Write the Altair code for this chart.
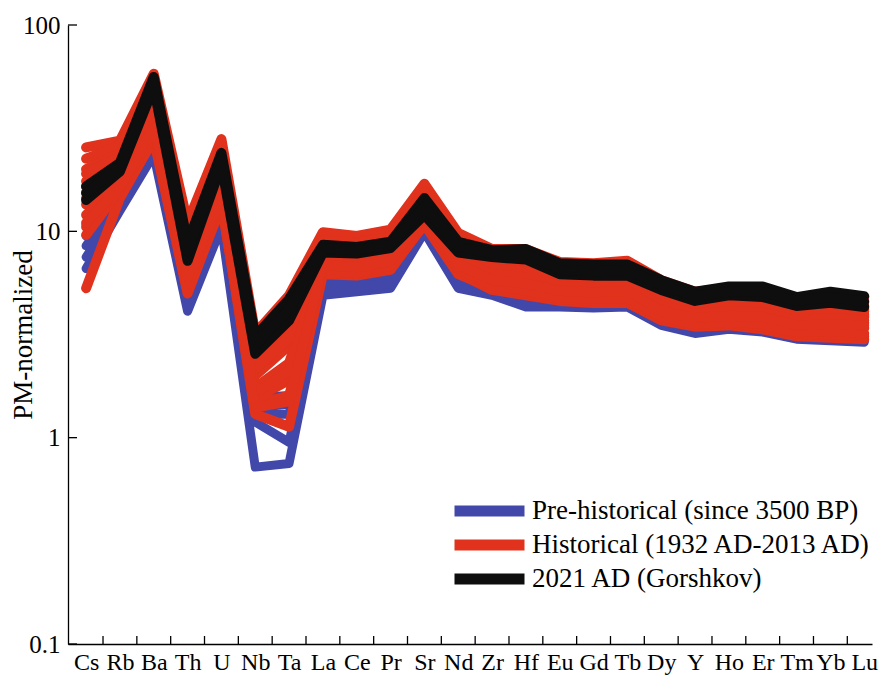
import altair as alt
import pandas as pd

# Trace elements in spider-diagram order
elements = ["Cs", "Rb", "Ba", "Th", "U", "Nb", "Ta", "La", "Ce", "Pr", "Sr", "Nd",
            "Zr", "Hf", "Eu", "Gd", "Tb", "Dy", "Y", "Ho", "Er", "Tm", "Yb", "Lu"]

# Primitive-mantle normalised concentrations, one list per sample
prehistoric = {
    "P1": [6.6, 12.6, 23.5, 4.1, 10.5, 0.72, 0.75, 4.9, 5.1, 5.3, 9.9, 5.3, 4.9, 4.3, 4.3, 4.25, 4.3, 3.5, 3.2, 3.35, 3.25, 3.0, 2.95, 2.9],
    "P2": [7.5, 13.5, 25.0, 4.5, 11.5, 1.19, 0.95, 5.2, 5.3, 5.6, 10.3, 5.5, 5.0, 4.6, 4.4, 4.3, 4.35, 3.55, 3.3, 3.4, 3.3, 3.05, 3.0, 2.95],
    "P3": [8.5, 14.5, 27.0, 5.0, 12.5, 1.56, 1.6, 5.6, 5.7, 5.9, 10.8, 5.9, 5.2, 4.8, 4.5, 4.45, 4.45, 3.65, 3.4, 3.5, 3.4, 3.15, 3.05, 3.0],
    "P4": [9.5, 15.5, 30.0, 5.6, 13.5, 1.4, 1.45, 6.0, 6.0, 6.2, 11.2, 6.3, 5.4, 5.0, 4.6, 4.55, 4.6, 3.75, 3.5, 3.6, 3.5, 3.2, 3.15, 3.05],
    "P5": [10.8, 16.5, 33.0, 6.0, 15.0, 1.3, 1.3, 6.4, 6.2, 6.5, 11.5, 6.7, 5.6, 5.1, 4.8, 4.7, 4.7, 3.9, 3.6, 3.7, 3.6, 3.3, 3.2, 3.15],
}

historical = {
    "H1": [25.5, 27.5, 58.0, 11.0, 28.0, 3.2, 4.9, 9.9, 9.5, 10.2, 17.0, 9.8, 8.2, 8.2, 7.1, 7.0, 7.2, 5.8, 5.1, 5.3, 5.3, 4.7, 5.0, 4.8],
    "H2": [22.5, 26.0, 52.0, 9.5, 25.0, 2.9, 4.3, 9.0, 8.8, 9.4, 15.5, 9.2, 7.8, 7.6, 6.7, 6.6, 6.7, 5.5, 4.8, 5.0, 5.0, 4.5, 4.75, 4.6],
    "H3": [20.0, 24.0, 47.0, 8.6, 22.0, 2.6, 3.8, 8.5, 8.2, 8.8, 14.5, 8.5, 7.2, 7.0, 6.3, 6.2, 6.3, 5.1, 4.6, 4.75, 4.7, 4.25, 4.5, 4.35],
    "H4": [17.5, 22.0, 42.0, 7.8, 20.0, 2.3, 3.3, 8.0, 7.7, 8.3, 13.5, 8.0, 6.8, 6.6, 5.9, 5.8, 5.9, 4.8, 4.35, 4.5, 4.45, 4.0, 4.2, 4.1],
    "H5": [15.5, 20.0, 38.0, 7.0, 18.0, 2.0, 2.8, 7.5, 7.3, 7.8, 12.8, 7.5, 6.4, 6.2, 5.6, 5.5, 5.6, 4.5, 4.1, 4.25, 4.2, 3.8, 3.95, 3.85],
    "H6": [13.5, 18.5, 34.0, 6.3, 16.5, 1.75, 2.3, 7.1, 6.9, 7.4, 12.2, 7.1, 6.0, 5.8, 5.3, 5.2, 5.3, 4.25, 3.9, 4.0, 3.95, 3.6, 3.7, 3.6],
    "H7": [12.0, 17.0, 31.0, 5.8, 15.5, 1.55, 1.9, 6.7, 6.5, 7.0, 11.6, 6.8, 5.6, 5.4, 5.0, 4.9, 5.0, 4.0, 3.7, 3.8, 3.7, 3.4, 3.45, 3.4],
    "H8": [10.5, 15.5, 29.0, 5.3, 14.0, 1.3, 1.13, 6.2, 6.1, 6.5, 11.0, 6.3, 5.2, 4.9, 4.6, 4.5, 4.5, 3.7, 3.45, 3.5, 3.35, 3.1, 3.05, 3.0],
    "H9": [5.3, 14.5, 28.0, 5.0, 13.4, 1.45, 1.6, 6.3, 6.2, 6.6, 10.8, 6.2, 5.3, 5.0, 4.7, 4.6, 4.6, 3.8, 3.5, 3.6, 3.45, 3.2, 3.15, 3.1],
    "H10": [9.6, 16.0, 30.0, 5.5, 14.5, 1.5, 2.0, 6.5, 6.3, 6.8, 11.2, 6.6, 5.45, 5.15, 4.8, 4.7, 4.75, 3.85, 3.55, 3.65, 3.55, 3.25, 3.3, 3.2],
    "H11": [19.0, 23.0, 45.0, 8.2, 21.0, 2.75, 4.0, 8.2, 8.0, 8.6, 14.0, 8.3, 7.0, 6.8, 6.1, 6.0, 6.1, 4.95, 4.5, 4.6, 4.55, 4.1, 4.35, 4.2],
    "H12": [16.5, 21.0, 40.0, 7.4, 19.0, 2.15, 3.05, 7.7, 7.5, 8.0, 13.1, 7.7, 6.6, 6.4, 5.75, 5.65, 5.75, 4.65, 4.2, 4.35, 4.3, 3.9, 4.05, 3.95],
    "H13": [14.5, 19.0, 36.0, 6.6, 17.0, 1.65, 2.1, 7.3, 7.1, 7.6, 12.5, 7.3, 6.2, 6.0, 5.45, 5.35, 5.45, 4.35, 4.0, 4.1, 4.05, 3.7, 3.8, 3.7],
    "H14": [11.0, 16.5, 32.0, 6.0, 15.0, 1.4, 1.5, 6.9, 6.7, 7.2, 11.9, 6.9, 5.8, 5.6, 5.15, 5.05, 5.15, 4.1, 3.8, 3.9, 3.85, 3.5, 3.55, 3.5],
}

gorshkov = {
    "G1": [16.5, 21.5, 56.0, 8.8, 24.0, 3.1, 4.7, 8.6, 8.4, 8.9, 14.5, 8.9, 8.1, 8.2, 7.0, 6.9, 6.9, 5.8, 5.1, 5.4, 5.4, 4.8, 5.1, 4.85],
    "G2": [14.2, 19.5, 50.0, 7.2, 21.0, 2.55, 3.7, 7.9, 7.8, 8.3, 12.0, 7.9, 7.5, 7.3, 6.2, 6.1, 6.1, 5.2, 4.6, 4.9, 4.8, 4.35, 4.5, 4.3],
    "G3": [15.3, 20.5, 53.0, 8.0, 22.5, 2.8, 4.2, 8.3, 8.1, 8.6, 13.2, 8.4, 7.8, 7.8, 6.5, 6.4, 6.5, 5.5, 4.85, 5.1, 5.1, 4.6, 4.8, 4.55],
}

groups = ["Pre-historical (since 3500 BP)", "Historical (1932 AD-2013 AD)", "2021 AD (Gorshkov)"]
colors = ["#4248aa", "#e0321c", "#0e0e0e"]

# Category boundaries carry the small inward x ticks; decades carry the y ticks
boundary_ticks = [i + 0.5 for i in range(len(elements) - 1)]
decade_ticks = [0.1, 1, 10, 100]

rows = []
for label, series in zip(groups, [prehistoric, historical, gorshkov]):
    for name, vals in series.items():
        for i, v in enumerate(vals):
            rows.append({"group": label, "sample": name, "pos": i, "value": v})
df = pd.DataFrame(rows)

W, H = 804, 619
FONT = "Liberation Serif"

x_scale = alt.Scale(domain=[-0.535, 23.23], nice=False, zero=False)
y_scale = alt.Scale(type="log", domain=[0.1, 100], nice=False)
color_scale = alt.Scale(domain=groups, range=colors)

label_expr = "[" + ",".join(f"'{e}'" for e in elements) + "][datum.value]"

x_axis = alt.Axis(
    values=list(range(len(elements))), labelExpr=label_expr, title=None,
    grid=False, ticks=False, tickSize=0, labelAngle=0,
    labelFont=FONT, labelFontSize=24, labelColor="black", labelPadding=6,
    domainColor="black", domainWidth=1.3, labelFlush=False, labelOverlap=False,
)
y_axis = alt.Axis(
    values=decade_ticks,
    labelExpr="datum.value < 1 ? '0.1' : format(datum.value, 'd')",
    title="PM-normalized", titleFont=FONT, titleFontSize=27, titleFontWeight="normal",
    titleColor="black", titleX=-37, titleY=H / 2, titleAngle=270,
    titleAlign="center", titleBaseline="alphabetic",
    grid=False, ticks=False, tickSize=0,
    labelFont=FONT, labelFontSize=25, labelColor="black", labelPadding=8,
    domainColor="black", domainWidth=1.3, labelFlush=False, labelOverlap=False,
)
legend = alt.Legend(
    title=None, orient="none", legendX=381, legendY=469, padding=0,
    symbolType="stroke", symbolSize=4900, symbolStrokeWidth=11, clipHeight=34,
    labelFont=FONT, labelFontSize=27, labelColor="black", labelOffset=2,
    labelLimit=500, rowPadding=0,
)


def group_lines(label, width):
    return alt.Chart(df[df["group"] == label]).mark_line(
        strokeWidth=width, strokeCap="round", strokeJoin="round"
    ).encode(
        x=alt.X("pos:Q", scale=x_scale, axis=x_axis),
        y=alt.Y("value:Q", scale=y_scale, axis=y_axis),
        color=alt.Color("group:N", scale=color_scale, legend=legend),
        detail="sample:N",
    )


x_ticks = alt.Chart(pd.DataFrame({"pos": boundary_ticks})).mark_rule(
    color="black", strokeWidth=1.3
).encode(
    x=alt.X("pos:Q", scale=x_scale, axis=x_axis),
    y=alt.value(H), y2=alt.value(H - 8),
)

y_ticks = alt.Chart(pd.DataFrame({"value": decade_ticks})).mark_rule(
    color="black", strokeWidth=1.3
).encode(
    y=alt.Y("value:Q", scale=y_scale, axis=y_axis),
    x=alt.value(0), x2=alt.value(9),
)

chart = alt.layer(
    x_ticks, y_ticks,
    group_lines(groups[0], 9),
    group_lines(groups[1], 10),
    group_lines(groups[2], 10),
).properties(
    width=W, height=H,
    padding={"left": 68, "top": 25, "right": 7, "bottom": 31},
    autosize=alt.AutoSizeParams(type="none"),
).configure_view(stroke=None)

chart.save("out.html", embed_options={"renderer": "svg", "actions": False})
